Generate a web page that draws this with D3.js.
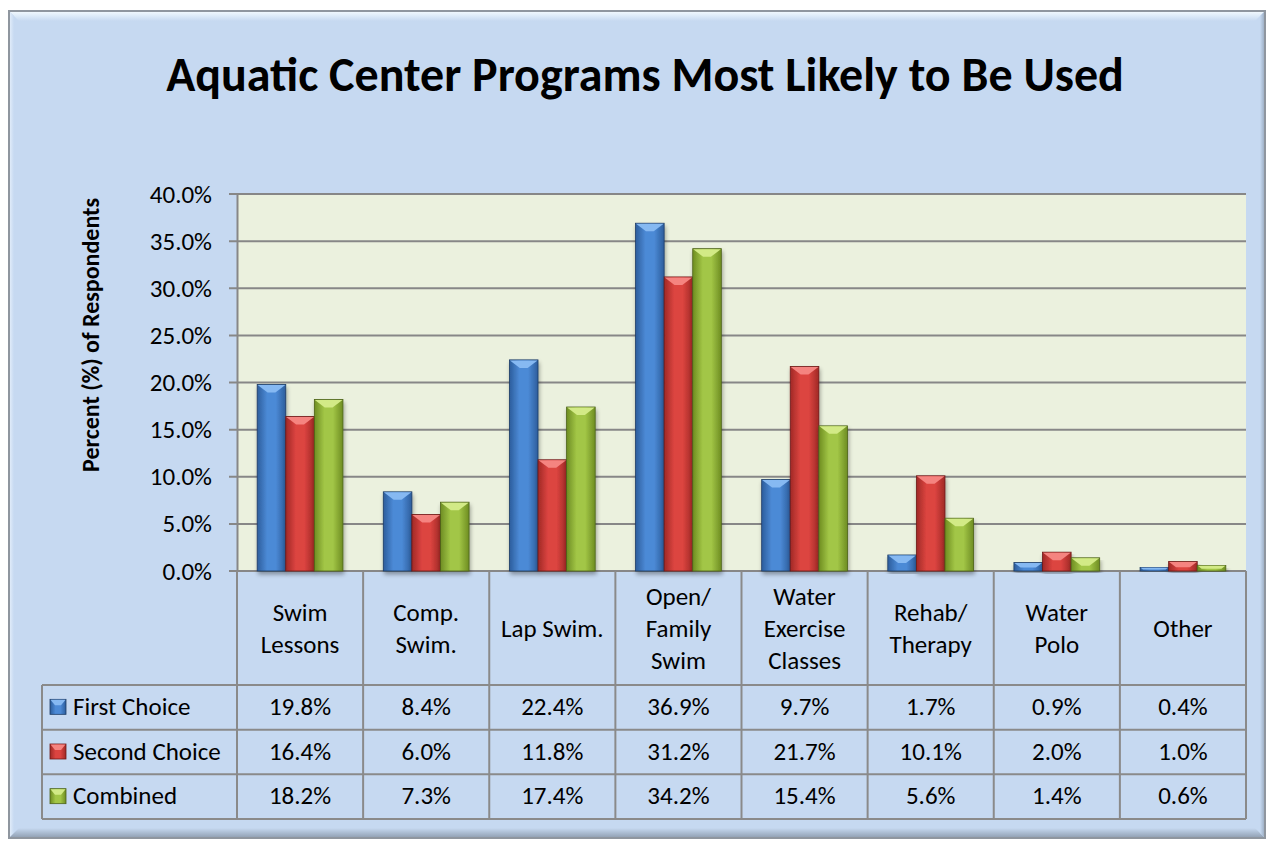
<!DOCTYPE html>
<html>
<head>
<meta charset="utf-8">
<script src="https://cdn.jsdelivr.net/npm/d3@7"></script>
<style>
  body { margin: 0; background: #ffffff; }
  svg text { font-family: Calibri, Carlito, Lato, "Open Sans", sans-serif; fill: #000; }
</style>
</head>
<body>
<div id="chart"></div>
<script>
// chart data
var categories = ["Swim Lessons", "Comp. Swim.", "Lap Swim.", "Open/ Family Swim",
	"Water Exercise Classes", "Rehab/ Therapy", "Water Polo", "Other"];
var categoryLines = [["Swim", "Lessons"], ["Comp.", "Swim."], ["Lap Swim."], ["Open/", "Family", "Swim"],
	["Water", "Exercise", "Classes"], ["Rehab/", "Therapy"], ["Water", "Polo"], ["Other"]];
var seriesNames = ["First Choice", "Second Choice", "Combined"];
var firstChoice = [19.8, 8.4, 22.4, 36.9, 9.7, 1.7, 0.9, 0.4];
var secondChoice = [16.4, 6.0, 11.8, 31.2, 21.7, 10.1, 2.0, 1.0];
var combined = [18.2, 7.3, 17.4, 34.2, 15.4, 5.6, 1.4, 0.6];
var yTicks = [0, 5, 10, 15, 20, 25, 30, 35, 40];

var seriesValues = [firstChoice, secondChoice, combined];

// colours for each series: edge, centre, bevel highlight, outline
var palette = [
	{ edge: "#2c5d9c", mid: "#4c8ad6", light: "#86b9f2", line: "#1d3c66" },
	{ edge: "#a02926", mid: "#dc4440", light: "#f58480", line: "#6e1a18" },
	{ edge: "#6e8d22", mid: "#a2c646", light: "#d2ea86", line: "#4d631a" }
];

var W = 1269, H = 841;
var plot = { left: 237, right: 1246, top: 194, bottom: 571 };
var table = { left: 42, headerBottom: 685, bottom: 819 };
var fontSize = 25;

var svg = d3.select("#chart").append("svg")
	.attr("width", W)
	.attr("height", H);

var defs = svg.append("defs");

// gradients for the frame bevel
var topHi = defs.append("linearGradient").attr("id", "topHi")
	.attr("x1", 0).attr("y1", 0).attr("x2", 0).attr("y2", 1);
topHi.append("stop").attr("offset", "0%").attr("stop-color", "#f4fbff");
topHi.append("stop").attr("offset", "100%").attr("stop-color", "#c6d9f1");
var leftHi = defs.append("linearGradient").attr("id", "leftHi")
	.attr("x1", 0).attr("y1", 0).attr("x2", 1).attr("y2", 0);
leftHi.append("stop").attr("offset", "0%").attr("stop-color", "#e6f0fb");
leftHi.append("stop").attr("offset", "100%").attr("stop-color", "#c6d9f1");
var botSh = defs.append("linearGradient").attr("id", "botSh")
	.attr("x1", 0).attr("y1", 0).attr("x2", 0).attr("y2", 1);
botSh.append("stop").attr("offset", "0%").attr("stop-color", "#c6d9f1");
botSh.append("stop").attr("offset", "100%").attr("stop-color", "#8e9db0");
var rightSh = defs.append("linearGradient").attr("id", "rightSh")
	.attr("x1", 0).attr("y1", 0).attr("x2", 1).attr("y2", 0);
rightSh.append("stop").attr("offset", "0%").attr("stop-color", "#c6d9f1");
rightSh.append("stop").attr("offset", "100%").attr("stop-color", "#97a8bd");

// bar gradients, dark edges and lighter middle
palette.forEach(function (p, i) {
	var g = defs.append("linearGradient").attr("id", "bar" + i)
		.attr("x1", 0).attr("y1", 0).attr("x2", 1).attr("y2", 0);
	g.append("stop").attr("offset", "0%").attr("stop-color", p.edge);
	g.append("stop").attr("offset", "35%").attr("stop-color", p.mid);
	g.append("stop").attr("offset", "65%").attr("stop-color", p.mid);
	g.append("stop").attr("offset", "100%").attr("stop-color", p.edge);
});

var shadow = defs.append("filter").attr("id", "shadow")
	.attr("x", "-20%").attr("y", "-5%").attr("width", "140%").attr("height", "120%");
shadow.append("feGaussianBlur").attr("in", "SourceAlpha").attr("stdDeviation", 2);
shadow.append("feOffset").attr("dx", 1).attr("dy", 3).attr("result", "off");
shadow.append("feComponentTransfer").append("feFuncA").attr("type", "linear").attr("slope", 0.35);
var merge = shadow.append("feMerge");
merge.append("feMergeNode");
merge.append("feMergeNode").attr("in", "SourceGraphic");

// outer frame with a bevel look
var fx = 9, fy = 11, fw = 1256, fh = 827, b = 10;
svg.append("rect")
	.attr("x", fx).attr("y", fy).attr("width", fw).attr("height", fh)
	.attr("fill", "#c6d9f1");
svg.append("polygon")
	.attr("points", [[fx, fy], [fx + fw, fy], [fx + fw - b, fy + b], [fx + b, fy + b]].join(" "))
	.attr("fill", "url(#topHi)");
svg.append("polygon")
	.attr("points", [[fx, fy], [fx + b * 0.5, fy + b * 0.5], [fx + b * 0.5, fy + fh - b * 0.5], [fx, fy + fh]].join(" "))
	.attr("fill", "url(#leftHi)");
svg.append("polygon")
	.attr("points", [[fx, fy + fh], [fx + b, fy + fh - b], [fx + fw - b, fy + fh - b], [fx + fw, fy + fh]].join(" "))
	.attr("fill", "url(#botSh)");
svg.append("polygon")
	.attr("points", [[fx + fw, fy], [fx + fw - 5, fy + 5], [fx + fw - 5, fy + fh - 5], [fx + fw, fy + fh]].join(" "))
	.attr("fill", "url(#rightSh)");
svg.append("rect")
	.attr("x", fx).attr("y", fy).attr("width", fw).attr("height", fh)
	.attr("fill", "none")
	.attr("stroke", "#8f969f")
	.attr("stroke-width", 2);

// title
svg.append("text")
	.attr("x", 645)
	.attr("y", 91)
	.attr("text-anchor", "middle")
	.attr("font-size", 48)
	.attr("font-weight", "bold")
	.text("Aquatic Center Programs Most Likely to Be Used");

// scales
var x0 = d3.scaleBand()
	.domain(categories)
	.range([plot.left, plot.right]);

var x1 = d3.scaleBand()
	.domain(seriesNames)
	.range([x0.bandwidth() * 0.16, x0.bandwidth() * 0.84]);

var y = d3.scaleLinear()
	.domain([0, 40])
	.range([plot.bottom, plot.top]);

// plot area
svg.append("rect")
	.attr("x", plot.left).attr("y", plot.top)
	.attr("width", plot.right - plot.left).attr("height", plot.bottom - plot.top)
	.attr("fill", "#ebf1de");

// gridlines
svg.append("g")
	.selectAll("line")
	.data(yTicks)
	.enter().append("line")
	.attr("x1", plot.left - 8)
	.attr("x2", plot.right)
	.attr("y1", function (d) { return y(d); })
	.attr("y2", function (d) { return y(d); })
	.attr("stroke", "#878787")
	.attr("stroke-width", 2);

// value axis
var yAxis = svg.append("g")
	.attr("transform", "translate(" + plot.left + ",0)")
	.call(d3.axisLeft(y)
		.tickValues(yTicks)
		.tickSize(0)
		.tickPadding(25)
		.tickFormat(function (d) { return d3.format(".1f")(d) + "%"; }));
yAxis.select(".domain")
	.attr("stroke", "#878787")
	.attr("stroke-width", 2);
yAxis.selectAll("text")
	.attr("font-size", fontSize)
	.attr("fill", "#000")
	.attr("font-family", "Calibri, Carlito, Lato, sans-serif");

svg.append("text")
	.attr("transform", "translate(99,335) rotate(-90)")
	.attr("text-anchor", "middle")
	.attr("font-size", 24)
	.attr("font-weight", "bold")
	.text("Percent (%) of Respondents");

// bars
var groups = svg.append("g")
	.selectAll("g")
	.data(categories)
	.enter().append("g")
	.attr("transform", function (d) { return "translate(" + x0(d) + ",0)"; });

var bars = groups.selectAll("g")
	.data(function (d, ci) {
		return seriesNames.map(function (s, si) {
			return { series: s, si: si, value: seriesValues[si][ci] };
		});
	})
	.enter().append("g")
	.attr("filter", "url(#shadow)");

bars.append("rect")
	.attr("x", function (d) { return x1(d.series); })
	.attr("y", function (d) { return y(d.value); })
	.attr("width", x1.bandwidth())
	.attr("height", function (d) { return y(0) - y(d.value); })
	.attr("fill", function (d) { return "url(#bar" + d.si + ")"; })
	.attr("stroke", function (d) { return palette[d.si].line; })
	.attr("stroke-width", 0.8);

// bevel on top of each bar
bars.append("polygon")
	.attr("points", function (d) {
		var bx = x1(d.series), bw = x1.bandwidth(), top = y(d.value);
		var depth = Math.min(8, (y(0) - top) * 0.6);
		var inset = depth * 1.3;
		return [[bx + 0.5, top + 0.5], [bx + bw - 0.5, top + 0.5],
			[bx + bw - inset, top + depth], [bx + inset, top + depth]].join(" ");
	})
	.attr("fill", function (d) { return palette[d.si].light; });

// data table
var rowY = d3.scaleBand()
	.domain(seriesNames)
	.range([table.headerBottom, table.bottom]);

var grid = svg.append("g")
	.attr("stroke", "#8a8a8a")
	.attr("stroke-width", 2);

// category column lines
grid.selectAll(".col")
	.data(categories)
	.enter().append("line")
	.attr("x1", function (d) { return x0(d) + x0.bandwidth(); })
	.attr("x2", function (d) { return x0(d) + x0.bandwidth(); })
	.attr("y1", plot.bottom)
	.attr("y2", table.bottom);
grid.append("line")
	.attr("x1", plot.left).attr("x2", plot.left)
	.attr("y1", plot.bottom).attr("y2", table.bottom);
grid.append("line")
	.attr("x1", table.left).attr("x2", table.left)
	.attr("y1", table.headerBottom).attr("y2", table.bottom);
grid.selectAll(".row")
	.data(seriesNames)
	.enter().append("line")
	.attr("x1", table.left)
	.attr("x2", plot.right)
	.attr("y1", function (d) { return rowY(d); })
	.attr("y2", function (d) { return rowY(d); });
grid.append("line")
	.attr("x1", table.left).attr("x2", plot.right)
	.attr("y1", table.bottom).attr("y2", table.bottom);

// category labels in the header row
var headerMid = (plot.bottom + table.headerBottom) / 2;
var lineH = 32;
svg.append("g")
	.selectAll("text")
	.data(categories)
	.enter().append("text")
	.attr("text-anchor", "middle")
	.attr("font-size", fontSize)
	.each(function (d, i) {
		var lines = categoryLines[i];
		var t = d3.select(this);
		lines.forEach(function (ln, k) {
			t.append("tspan")
				.attr("x", x0(d) + x0.bandwidth() / 2)
				.attr("y", headerMid + (k - (lines.length - 1) / 2) * lineH)
				.attr("dy", "0.35em")
				.text(ln);
		});
	});

// legend keys and series names
var legendRows = svg.append("g")
	.selectAll("g")
	.data(seriesNames)
	.enter().append("g")
	.attr("transform", function (d) { return "translate(0," + (rowY(d) + rowY.bandwidth() / 2 - 1) + ")"; });

legendRows.append("rect")
	.attr("x", 50).attr("y", -7)
	.attr("width", 16).attr("height", 15)
	.attr("fill", function (d, i) { return "url(#bar" + i + ")"; })
	.attr("stroke", function (d, i) { return palette[i].line; })
	.attr("stroke-width", 0.8);
legendRows.append("polygon")
	.attr("points", "50.5,-6.5 65.5,-6.5 61,-1 55,-1")
	.attr("fill", function (d, i) { return palette[i].light; });

legendRows.append("text")
	.attr("x", 73)
	.attr("dy", "0.35em")
	.attr("font-size", fontSize)
	.text(function (d) { return d; });

// values in table cells
legendRows.each(function (s, si) {
	d3.select(this).selectAll(".val")
		.data(seriesValues[si])
		.enter().append("text")
		.attr("class", "val")
		.attr("x", function (d, ci) { return x0(categories[ci]) + x0.bandwidth() / 2; })
		.attr("dy", "0.35em")
		.attr("text-anchor", "middle")
		.attr("font-size", fontSize)
		.text(function (d) { return d3.format(".1f")(d) + "%"; });
});
</script>
</body>
</html>
